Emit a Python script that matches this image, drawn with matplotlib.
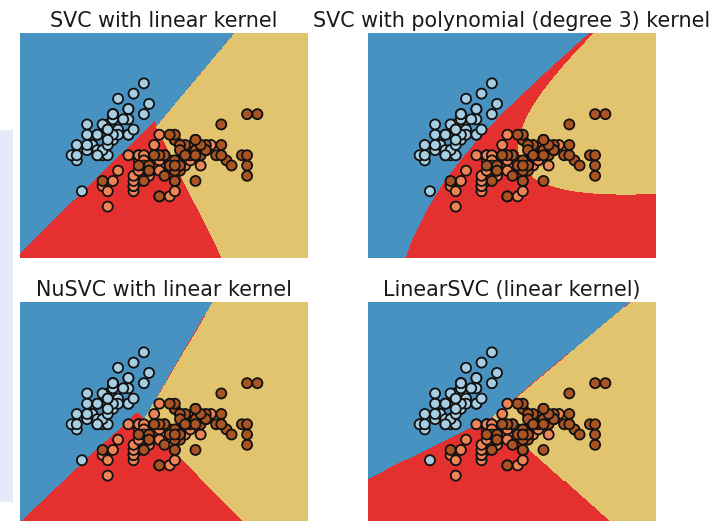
import numpy as np
import matplotlib
matplotlib.use("Agg")
import matplotlib.pyplot as plt
from matplotlib.patches import Rectangle

# Iris data set: first two features (sepal length / sepal width, cm)
sepal_length = [
    5.1, 4.9, 4.7, 4.6, 5.0, 5.4, 4.6, 5.0, 4.4, 4.9, 5.4, 4.8, 4.8, 4.3, 5.8, 5.7, 5.4, 5.1, 5.7, 5.1,
    5.4, 5.1, 4.6, 5.1, 4.8, 5.0, 5.0, 5.2, 5.2, 4.7, 4.8, 5.4, 5.2, 5.5, 4.9, 5.0, 5.5, 4.9, 4.4, 5.1,
    5.0, 4.5, 4.4, 5.0, 5.1, 4.8, 5.1, 4.6, 5.3, 5.0,
    7.0, 6.4, 6.9, 5.5, 6.5, 5.7, 6.3, 4.9, 6.6, 5.2, 5.0, 5.9, 6.0, 6.1, 5.6, 6.7, 5.6, 5.8, 6.2, 5.6,
    5.9, 6.1, 6.3, 6.1, 6.4, 6.6, 6.8, 6.7, 6.0, 5.7, 5.5, 5.5, 5.8, 6.0, 5.4, 6.0, 6.7, 6.3, 5.6, 5.5,
    5.5, 6.1, 5.8, 5.0, 5.6, 5.7, 5.7, 6.2, 5.1, 5.7,
    6.3, 5.8, 7.1, 6.3, 6.5, 7.6, 4.9, 7.3, 6.7, 7.2, 6.5, 6.4, 6.8, 5.7, 5.8, 6.4, 6.5, 7.7, 7.7, 6.0,
    6.9, 5.6, 7.7, 6.3, 6.7, 7.2, 6.2, 6.1, 6.4, 7.2, 7.4, 7.9, 6.4, 6.3, 6.1, 7.7, 6.3, 6.4, 6.0, 6.9,
    6.7, 6.9, 5.8, 6.8, 6.7, 6.7, 6.3, 6.5, 6.2, 5.9,
]
sepal_width = [
    3.5, 3.0, 3.2, 3.1, 3.6, 3.9, 3.4, 3.4, 2.9, 3.1, 3.7, 3.4, 3.0, 3.0, 4.0, 4.4, 3.9, 3.5, 3.8, 3.8,
    3.4, 3.7, 3.6, 3.3, 3.4, 3.0, 3.4, 3.5, 3.4, 3.2, 3.1, 3.4, 4.1, 4.2, 3.1, 3.2, 3.5, 3.6, 3.0, 3.4,
    3.5, 2.3, 3.2, 3.5, 3.8, 3.0, 3.8, 3.2, 3.7, 3.3,
    3.2, 3.2, 3.1, 2.3, 2.8, 2.8, 3.3, 2.4, 2.9, 2.7, 2.0, 3.0, 2.2, 2.9, 2.9, 3.1, 3.0, 2.7, 2.2, 2.5,
    3.2, 2.8, 2.5, 2.8, 2.9, 3.0, 2.8, 3.0, 2.9, 2.6, 2.4, 2.4, 2.7, 2.7, 3.0, 3.4, 3.1, 2.3, 3.0, 2.5,
    2.6, 3.0, 2.6, 2.3, 2.7, 3.0, 2.9, 2.9, 2.5, 2.8,
    3.3, 2.7, 3.0, 2.9, 3.0, 3.0, 2.5, 2.9, 2.5, 3.6, 3.2, 2.7, 3.0, 2.5, 2.8, 3.2, 3.0, 3.8, 2.6, 2.2,
    3.2, 2.8, 2.8, 2.7, 3.3, 3.2, 2.8, 3.0, 2.8, 3.0, 2.8, 3.8, 2.8, 2.8, 2.6, 3.0, 3.4, 3.1, 3.0, 3.1,
    3.1, 3.1, 2.7, 3.2, 3.3, 3.0, 2.5, 3.0, 3.4, 3.0,
]
species = [0] * 50 + [1] * 50 + [2] * 50

titles = [
    "SVC with linear kernel",
    "SVC with polynomial (degree 3) kernel",
    "NuSVC with linear kernel",
    "LinearSVC (linear kernel)",
]

# NuSVC versicolor-vs-virginica decision function (w_length, w_width, intercept);
# with nu = 0.5 the reduced hulls of these two classes overlap, so the fitted
# hyperplane is degenerate and its coefficients are given explicitly.
nusvc_versicolor_virginica = [-1.0, -0.98, 8.72]

region_colors = ["#4892c2", "#e4302f", "#e2c46f"]
point_colors = ["#a6cee3", "#ee8456", "#aa5424"]

C = 1.0
NU = 0.5
POLY_DEGREE = 3
POLY_GAMMA = 0.5
STEP = 0.02

X = np.column_stack([sepal_length, sepal_width])
labels = np.array(species)
classes = np.unique(labels)


def linear_kernel(a, b):
    return a @ b.T


def poly_kernel(a, b):
    return (POLY_GAMMA * (a @ b.T)) ** POLY_DEGREE


def pair_update(alpha, G, Q, diag, t, i, j, c):
    """Analytic two-variable step of the SMO algorithm (libsvm style)."""
    ai, aj = alpha[i], alpha[j]
    if t[i] != t[j]:
        quad = diag[i] + diag[j] + 2 * Q[i, j]
        quad = quad if quad > 0 else 1e-12
        delta = (-G[i] - G[j]) / quad
        diff = ai - aj
        alpha[i] = ai + delta
        alpha[j] = aj + delta
        if diff > 0:
            if alpha[j] < 0:
                alpha[j] = 0.0
                alpha[i] = diff
        else:
            if alpha[i] < 0:
                alpha[i] = 0.0
                alpha[j] = -diff
        if diff > 0:
            if alpha[i] > c:
                alpha[i] = c
                alpha[j] = c - diff
        else:
            if alpha[j] > c:
                alpha[j] = c
                alpha[i] = c + diff
    else:
        quad = diag[i] + diag[j] - 2 * Q[i, j]
        quad = quad if quad > 0 else 1e-12
        delta = (G[i] - G[j]) / quad
        s = ai + aj
        alpha[i] = ai - delta
        alpha[j] = aj + delta
        if s > c:
            if alpha[i] > c:
                alpha[i] = c
                alpha[j] = s - c
        else:
            if alpha[j] < 0:
                alpha[j] = 0.0
                alpha[i] = s
        if s > c:
            if alpha[j] > c:
                alpha[j] = c
                alpha[i] = s - c
        else:
            if alpha[i] < 0:
                alpha[i] = 0.0
                alpha[j] = s
    G += Q[i] * (alpha[i] - ai) + Q[j] * (alpha[j] - aj)


def solve_c_svc(K, t, c=C, eps=1e-3, max_iter=200000):
    n = len(t)
    Q = np.outer(t, t) * K
    diag = np.diag(K).copy()
    alpha = np.zeros(n)
    G = -np.ones(n)
    for _ in range(max_iter):
        up = ((t > 0) & (alpha < c)) | ((t < 0) & (alpha > 0))
        low = ((t > 0) & (alpha > 0)) | ((t < 0) & (alpha < c))
        s_up = np.where(up, -t * G, -np.inf)
        i = int(np.argmax(s_up))
        gmax = s_up[i]
        gmax2 = np.max(np.where(low, t * G, -np.inf))
        if gmax + gmax2 < eps:
            break
        b = gmax + t * G
        quad = np.maximum(diag[i] + diag - 2 * K[i], 1e-12)
        obj = np.where(low & (b > 0), -b * b / quad, np.inf)
        j = int(np.argmin(obj))
        pair_update(alpha, G, Q, diag, t, i, j, c)
    tG = t * G
    at_up = alpha >= c
    at_low = alpha <= 0
    free = ~at_up & ~at_low
    if free.any():
        rho = tG[free].mean()
    else:
        ub = tG[(at_up & (t < 0)) | (at_low & (t > 0))].min()
        lb = tG[(at_up & (t > 0)) | (at_low & (t < 0))].max()
        rho = (ub + lb) / 2
    return alpha * t, rho


def solve_nu_svc(K, t, nu=NU, eps=1e-3, max_iter=200000):
    n = len(t)
    Q = np.outer(t, t) * K
    diag = np.diag(K).copy()
    alpha = np.zeros(n)
    sum_pos = sum_neg = nu * n / 2
    for k in range(n):
        if t[k] > 0:
            alpha[k] = min(1.0, sum_pos)
            sum_pos -= alpha[k]
        else:
            alpha[k] = min(1.0, sum_neg)
            sum_neg -= alpha[k]
    G = Q @ alpha
    pos = t > 0
    neg = ~pos
    with np.errstate(invalid="ignore", over="ignore"):
        for _ in range(max_iter):
            not_up = alpha < 1.0
            not_low = alpha > 0
            sp = np.where(pos & not_up, -G, -np.inf)
            ip = int(np.argmax(sp))
            gp = sp[ip]
            sn = np.where(neg & not_low, G, -np.inf)
            iq = int(np.argmax(sn))
            gn = sn[iq]
            gp2 = np.max(np.where(pos & not_low, G, -np.inf))
            gn2 = np.max(np.where(neg & not_up, -G, -np.inf))
            if max(gp + gp2, gn + gn2) < eps:
                break
            bp = np.where(pos & not_low, gp + G, -np.inf)
            bn = np.where(neg & not_up, gn - G, -np.inf)
            qp = np.maximum(diag[ip] + diag - 2 * K[ip], 1e-12)
            qn = np.maximum(diag[iq] + diag - 2 * K[iq], 1e-12)
            op = np.where(bp > 0, -bp * bp / qp, np.inf)
            on = np.where(bn > 0, -bn * bn / qn, np.inf)
            obj = np.where(pos, op, on)
            j = int(np.argmin(obj))
            i = ip if pos[j] else iq
            pair_update(alpha, G, Q, diag, t, i, j, 1.0)

    def side_r(mask):
        up = mask & (alpha >= 1.0)
        low = mask & (alpha <= 0)
        free = mask & ~(alpha >= 1.0) & ~(alpha <= 0)
        if free.any():
            return G[free].mean()
        ub = G[low].min() if low.any() else np.inf
        lb = G[up].max() if up.any() else -np.inf
        return (ub + lb) / 2

    r1 = side_r(pos)
    r2 = side_r(neg)
    return alpha * t, (r1 - r2) / 2


def predict_ovo(Xtr, ytr, grid, kernel, solver, fixed=None):
    """One-vs-one voting; `fixed` maps a class pair to explicit linear coefficients."""
    fixed = fixed or {}
    votes = np.zeros((len(grid), len(classes)), dtype=int)
    for a in range(len(classes)):
        for b in range(a + 1, len(classes)):
            if (a, b) in fixed:
                wl, ww, b0 = fixed[(a, b)]
                dec = grid @ np.array([wl, ww]) + b0
            else:
                mask = (ytr == classes[a]) | (ytr == classes[b])
                Xp = Xtr[mask]
                t = np.where(ytr[mask] == classes[a], 1.0, -1.0)
                coef, rho = solver(kernel(Xp, Xp), t)
                sv = np.abs(coef) > 0
                dec = kernel(grid, Xp[sv]) @ coef[sv] - rho
            votes[:, a] += dec > 0
            votes[:, b] += dec <= 0
    return classes[np.argmax(votes, axis=1)]


def predict_linear_svc(Xtr, ytr, grid, c=C):
    """One-vs-rest L2-regularised squared-hinge linear SVM (bias regularised)."""
    Xa = np.column_stack([Xtr, np.ones(len(Xtr))])
    W = []
    for k in classes:
        t = np.where(ytr == k, 1.0, -1.0)
        w = np.zeros(Xa.shape[1])

        def objective(v):
            m = np.maximum(0.0, 1 - t * (Xa @ v))
            return 0.5 * v @ v + c * np.sum(m * m)

        for _ in range(200):
            m = 1 - t * (Xa @ w)
            act = m > 0
            g = w - 2 * c * (Xa[act].T @ (t[act] * m[act]))
            if np.linalg.norm(g) < 1e-12:
                break
            H = np.eye(len(w)) + 2 * c * Xa[act].T @ Xa[act]
            d = -np.linalg.solve(H, g)
            step = 1.0
            f0 = objective(w)
            while objective(w + step * d) > f0 + 1e-4 * step * (g @ d) and step > 1e-12:
                step *= 0.5
            w = w + step * d
        W.append(w)
    W = np.array(W)
    ga = np.column_stack([grid, np.ones(len(grid))])
    return classes[np.argmax(ga @ W.T, axis=1)]


x_min, x_max = X[:, 0].min() - 1, X[:, 0].max() + 1
y_min, y_max = X[:, 1].min() - 1, X[:, 1].max() + 1
xx, yy = np.meshgrid(np.arange(x_min, x_max, STEP), np.arange(y_min, y_max, STEP))
grid = np.c_[xx.ravel(), yy.ravel()]

predictions = [
    predict_ovo(X, labels, grid, linear_kernel, solve_c_svc),
    predict_ovo(X, labels, grid, poly_kernel, solve_c_svc),
    predict_ovo(X, labels, grid, linear_kernel, solve_nu_svc,
                fixed={(1, 2): nusvc_versicolor_virginica}),
    predict_linear_svc(X, labels, grid),
]

fig = plt.figure(figsize=(7.28, 5.21), dpi=100)
fig.patch.set_facecolor("white")
fig.patches.append(Rectangle((0.0, 0.036), 0.018, 0.715, transform=fig.transFigure,
                             facecolor="#e8e8fb", edgecolor="none", zorder=0))

W_AX, H_AX = 288 / 728, 225 / 521
positions = [
    (20 / 728, 1 - 258 / 521),
    (368 / 728, 1 - 258 / 521),
    (20 / 728, 1 - 527 / 521),
    (368 / 728, 1 - 527 / 521),
]

pt_colors = [point_colors[k] for k in labels]
for (left, bottom), title, Z in zip(positions, titles, predictions):
    ax = fig.add_axes([left, bottom, W_AX, H_AX])
    ax.contourf(xx, yy, Z.reshape(xx.shape), levels=[-0.5, 0.5, 1.5, 2.5],
                colors=region_colors)
    ax.scatter(X[:, 0], X[:, 1], c=pt_colors, s=52, edgecolors="#111111", linewidths=1.3,
               zorder=3)
    ax.set_xlim(xx.min(), xx.max())
    ax.set_ylim(yy.min(), yy.max())
    ax.axis("off")
    ax.set_title(title, fontsize=14.9, color="#1a1a1a", pad=4.3)

fig.savefig("out.png", dpi=100)
